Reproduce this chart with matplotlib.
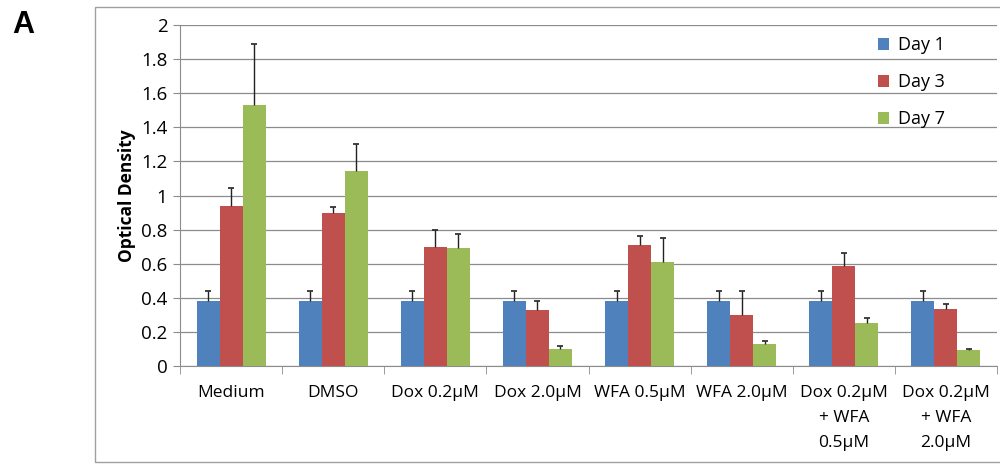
import matplotlib.pyplot as plt
import numpy as np
from matplotlib.patches import Rectangle

categories = ["Medium", "DMSO", "Dox 0.2\u03bcM", "Dox 2.0\u03bcM", "WFA 0.5\u03bcM",
              "WFA 2.0\u03bcM", "Dox 0.2\u03bcM\n+ WFA\n0.5\u03bcM", "Dox 0.2\u03bcM\n+ WFA\n2.0\u03bcM"]
series_names = ["Day 1", "Day 3", "Day 7"]

day1 = [0.38, 0.38, 0.38, 0.38, 0.38, 0.38, 0.38, 0.38]
day3 = [0.94, 0.895, 0.70, 0.327, 0.712, 0.30, 0.585, 0.337]
day7 = [1.53, 1.145, 0.69, 0.10, 0.61, 0.13, 0.25, 0.096]

day1_err = [0.06, 0.06, 0.06, 0.06, 0.06, 0.06, 0.06, 0.06]
day3_err = [0.105, 0.035, 0.097, 0.053, 0.048, 0.14, 0.075, 0.029]
day7_err = [0.36, 0.155, 0.083, 0.02, 0.14, 0.015, 0.03, 0.005]

colors = ["#4F81BD", "#C0504D", "#9BBB59"]

plt.rcParams['font.family'] = ['Open Sans', 'DejaVu Sans']

fig = plt.figure(figsize=(10, 4.65), dpi=100)
ax = fig.add_axes([0.18, 0.213, 0.817, 0.733])

# outer chart frame
fig.patches.append(Rectangle((0.095, 0.006), 0.91, 0.98, transform=fig.transFigure,
                             fill=False, edgecolor="#A0A0A0", linewidth=1.0))

x = np.arange(len(categories))
w = 0.225
for i, (vals, errs) in enumerate([(day1, day1_err), (day3, day3_err), (day7, day7_err)]):
    xs = x + (i - 1) * w
    vals = np.array(vals)
    tops = vals + np.array(errs)
    ax.bar(xs, vals, w, color=colors[i], label=series_names[i], zorder=3)
    # only the upper half of the error bar, like Excel
    ax.vlines(xs, vals, tops, color="#222222", linewidth=1.0, zorder=4)
    ax.plot(xs, tops, linestyle="none", marker="_", markersize=5,
            markeredgewidth=1.2, color="#222222", zorder=4)

ax.set_xlim(-0.5, len(categories) - 0.5)
ax.set_ylim(0, 2)
ax.set_yticks(np.arange(0, 2.01, 0.2))
ax.set_yticklabels(["0", "0.2", "0.4", "0.6", "0.8", "1", "1.2", "1.4", "1.6", "1.8", "2"])
ax.yaxis.grid(True, color="#8C8C8C", linewidth=0.9, zorder=0)
ax.set_axisbelow(True)

ax.set_xticks(x)
ax.set_xticklabels(categories, fontsize=12.5, linespacing=1.75, va="top")
ax.set_xticks(np.arange(-0.5, len(categories), 1), minor=True)
ax.tick_params(axis="x", which="major", length=0, pad=14)
ax.tick_params(axis="x", which="minor", length=6, color="#8C8C8C")
ax.tick_params(axis="y", length=5, color="#8C8C8C", labelsize=13.5, pad=4)

for s in ["top", "right"]:
    ax.spines[s].set_visible(False)
ax.spines["left"].set_color("#8C8C8C")
ax.spines["bottom"].set_color("#8C8C8C")

ax.set_ylabel("Optical Density", fontsize=12.5, fontweight="bold", labelpad=4)

ax.legend(loc="upper left", bbox_to_anchor=(0.835, 1.015), frameon=False,
          fontsize=13, handlelength=0.6, handleheight=0.6, labelspacing=1.05,
          handletextpad=0.5)

fig.text(0.012, 0.93, "A", fontsize=22, fontweight="bold", family="Liberation Sans")

fig.savefig("out.png", dpi=100)
